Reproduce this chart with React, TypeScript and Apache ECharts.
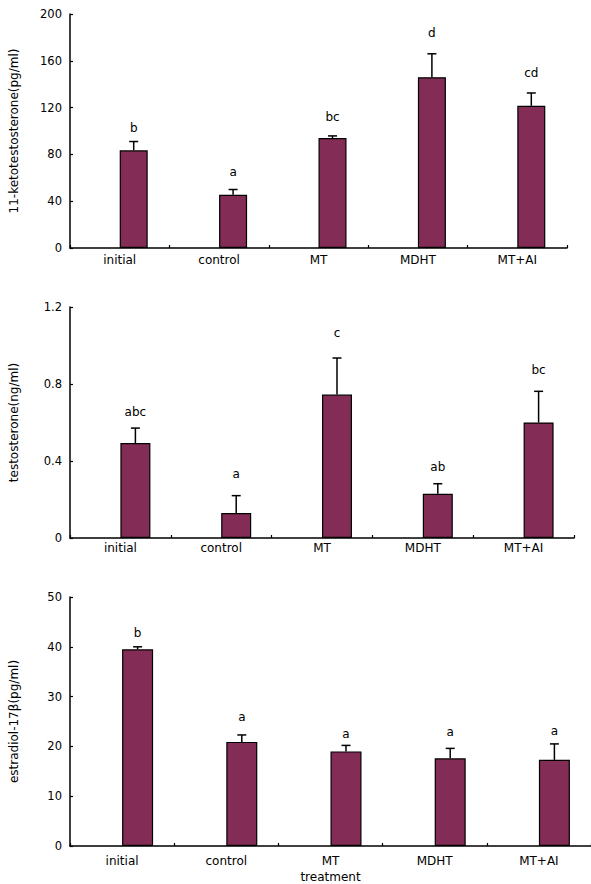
import React, { useEffect, useRef } from 'react';
import * as echarts from 'echarts';

const categories = ['initial', 'control', 'MT', 'MDHT', 'MT+AI'];

// 11-ketotestosterone (pg/ml)
const ketoMean = [83.5, 45.5, 94, 146, 121.5];
const ketoErr = [7.5, 4.5, 1.8, 20, 11];
const ketoLetters = ['b', 'a', 'bc', 'd', 'cd'];
const ketoLetterY = [102.5, 65, 112, 184, 150];
const ketoTicks = { max: 200, interval: 40 };

// testosterone (ng/ml)
const testoMean = [0.493, 0.13, 0.745, 0.23, 0.6];
const testoErr = [0.078, 0.09, 0.19, 0.052, 0.162];
const testoLetters = ['abc', 'a', 'c', 'ab', 'bc'];
const testoLetterY = [0.652, 0.332, 1.065, 0.367, 0.874];
const testoTicks = { max: 1.2, interval: 0.4 };

// estradiol-17β (pg/ml)
const e2Mean = [39.5, 20.9, 19.0, 17.6, 17.3];
const e2Err = [0.5, 1.4, 1.2, 2.0, 3.2];
const e2Letters = ['b', 'a', 'a', 'a', 'a'];
const e2LetterY = [42.8, 26, 22.5, 22.8, 23.1];
const e2Ticks = { max: 50, interval: 10 };

const BAR_COLOR = '#832C55';
const FONT = 'DejaVu Sans';

export default function App() {
  const ref = useRef<HTMLDivElement>(null);
  useEffect(() => {
    document.body.style.margin = '0';
    const chart = echarts.init(ref.current!, null, { renderer: 'svg' });

    const panels = [
      {
        grid: { left: 66, top: 14, width: 501, height: 234 },
        barW: 28, labelMargin: 6, name: '11-ketotestosterone(pg/ml)',
        mean: ketoMean, err: ketoErr, letters: ketoLetters, letterY: ketoLetterY, ticks: ketoTicks,
      },
      {
        grid: { left: 66, top: 307, width: 508, height: 231 },
        barW: 30, labelMargin: 4, name: 'testosterone(ng/ml)',
        mean: testoMean, err: testoErr, letters: testoLetters, letterY: testoLetterY, ticks: testoTicks,
      },
      {
        grid: { left: 66, top: 597, width: 525, height: 250 },
        barW: 31, labelMargin: 9, name: 'estradiol-17β(pg/ml)',
        mean: e2Mean, err: e2Err, letters: e2Letters, letterY: e2LetterY, ticks: e2Ticks,
      },
    ];

    const axisLine = { show: true, lineStyle: { color: '#000', width: 1.5 } };
    const tickStyle = { color: '#000', fontFamily: FONT, fontSize: 11.5 };
    const catStyle = { color: '#000', fontFamily: FONT, fontSize: 12 };
    const nameStyle = { color: '#000', fontFamily: FONT, fontSize: 12 };

    const series: any[] = [];
    panels.forEach((p, i) => {
      series.push({
        type: 'bar', xAxisIndex: i, yAxisIndex: i, data: [], barWidth: p.barW, barGap: 0,
      });
      series.push({
        type: 'bar', xAxisIndex: i, yAxisIndex: i, data: p.mean, barWidth: p.barW, barGap: 0,
        itemStyle: { color: BAR_COLOR, borderColor: '#000', borderWidth: 1.2 },
      });
      series.push({
        type: 'custom', xAxisIndex: i, yAxisIndex: i, z: 5, clip: false,
        encode: { x: 0, y: [1, 2, 3] },
        data: p.mean.map((m, k) => [k, m, m + p.err[k], p.letterY[k]]),
        renderItem: (params: any, api: any) => {
          const k = api.value(0);
          const base = api.coord([k, api.value(1)]);
          const top = api.coord([k, api.value(2)]);
          const lab = api.coord([k, api.value(3)]);
          const x = base[0] + p.barW / 2;
          const ls = { stroke: '#000', lineWidth: 1.5 };
          return {
            type: 'group',
            children: [
              { type: 'line', shape: { x1: x, y1: base[1], x2: x, y2: top[1] }, style: ls },
              { type: 'line', shape: { x1: x - 4.5, y1: top[1], x2: x + 4.5, y2: top[1] }, style: ls },
              {
                type: 'text', x, y: lab[1],
                style: {
                  text: p.letters[params.dataIndex], align: 'center', verticalAlign: 'middle',
                  fontFamily: FONT, fontSize: 12, fill: '#000',
                },
              },
            ],
          };
        },
      });
    });

    chart.setOption({
      animation: false,
      backgroundColor: '#fff',
      grid: panels.map((p) => ({ ...p.grid })),
      xAxis: panels.map((p, i) => ({
        type: 'category', gridIndex: i, data: categories,
        axisLine,
        axisTick: { show: true, inside: true, length: 3, lineStyle: { color: '#000', width: 1.2 } },
        axisLabel: { ...catStyle, margin: p.labelMargin, interval: 0 },
        name: i === 2 ? 'treatment' : '',
        nameLocation: 'middle', nameGap: 25,
        nameTextStyle: nameStyle,
      })),
      yAxis: panels.map((p, i) => ({
        type: 'value', gridIndex: i, min: 0, max: p.ticks.max, interval: p.ticks.interval,
        axisLine,
        axisTick: { show: true, inside: true, length: 3, lineStyle: { color: '#000', width: 1.2 } },
        splitLine: { show: false },
        axisLabel: { ...tickStyle, margin: 8 },
        name: p.name, nameLocation: 'middle', nameGap: 50, nameRotate: 90,
        nameTextStyle: nameStyle,
      })),
      series,
    });
    return () => chart.dispose();
  }, []);
  return <div ref={ref} style={{ width: 591, height: 884 }} />;
}
